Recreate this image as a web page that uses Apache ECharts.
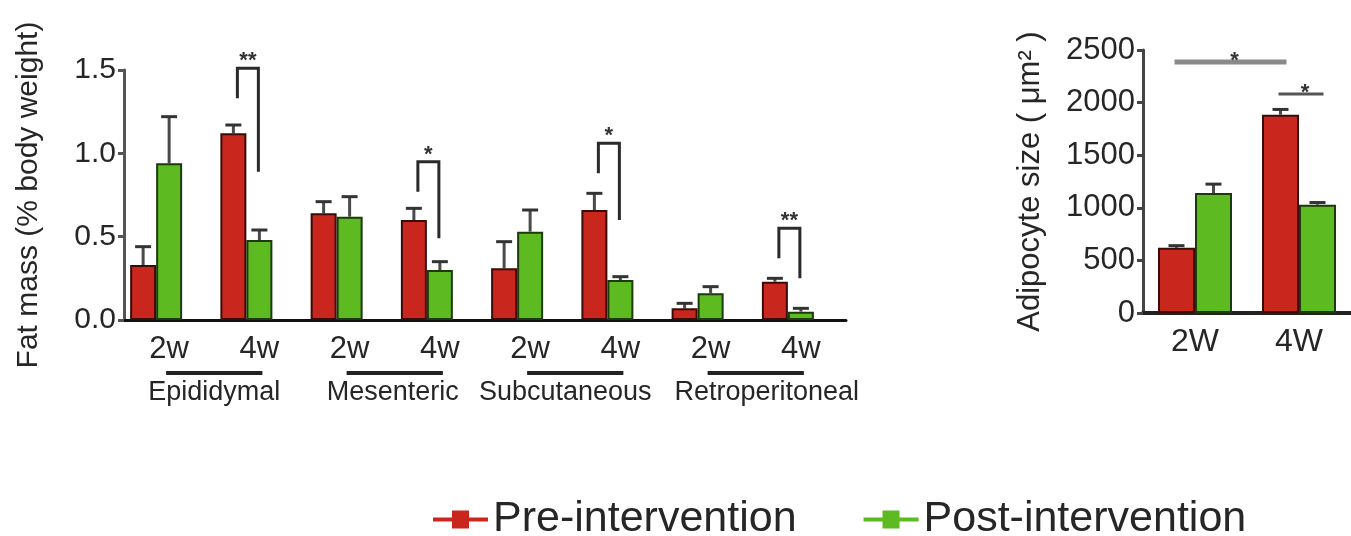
<!DOCTYPE html>
<html>
<head>
<meta charset="utf-8">
<script src="https://cdn.jsdelivr.net/npm/echarts@6/dist/echarts.min.js"></script>
<style>
html,body{margin:0;padding:0;background:#fff;}
#chart{width:1351px;height:536px;}
</style>
</head>
<body>
<div id="chart"></div>
<script>
// ---------- data ----------
const groups = ['Epididymal', 'Mesenteric', 'Subcutaneous', 'Retroperitoneal'];
const times = ['2w', '4w'];
const preMean  = [0.33, 1.12, 0.64, 0.60, 0.31, 0.66, 0.07, 0.23];
const preSem   = [0.11, 0.05, 0.07, 0.07, 0.16, 0.10, 0.03, 0.02];
const postMean = [0.94, 0.48, 0.62, 0.30, 0.53, 0.24, 0.16, 0.05];
const postSem  = [0.28, 0.06, 0.12, 0.05, 0.13, 0.02, 0.04, 0.02];
// brackets: [category index, left leg bottom, top, right leg bottom]
const brackets = [[1, 1.33, 1.51, 0.89], [3, 0.77, 0.95, 0.49], [5, 0.88, 1.06, 0.60], [7, 0.37, 0.55, 0.25]];
const bracketLabels = ['**', '*', '*', '**'];
const fatTicks = [0, 0.5, 1.0, 1.5];

const adCats = ['2W', '4W'];
const adPre = [620, 1885];
const adPreSem = [20, 50];
const adPost = [1140, 1030];
const adPostSem = [85, 20];
// significance lines: [cat from, side from (0 pre / 1 post), cat to, side to, level]
const adSig = [[0, 0, 1, 0, 2386], [1, 0, 1, 1, 2081]];
const adSigLabels = ['*', '*'];

const seriesNames = ['Pre-intervention', 'Post-intervention'];

// ---------- style ----------
const RED = '#c9271d', GREEN = '#5dba20';
const RED_B = '#3a0c08', GREEN_B = '#1d3a0a';
const FONT = "'Liberation Sans', Arial, sans-serif";
const TXT = '#262626';
const BW = 26;   // left bar width
const BW2 = 37;  // right bar width
const groupLabelPad = [[0, 0, 0, 0], [0, 4, 0, 0], [0, 20, 0, 0], [0, 0, 0, 22]];

const cats = [];
groups.forEach(g => times.forEach(t => cats.push(g + '|' + t)));

function errBar(offset, cap) {
  return function (params, api) {
    const c = api.value(0), m = api.value(1), s = api.value(2);
    const x = api.coord([c, m])[0] + offset;
    const yb = api.coord([c, m])[1];
    const yt = api.coord([c, m + s])[1];
    return {
      type: 'group', children: [
        {type: 'line', shape: {x1: x, y1: yb, x2: x, y2: yt}, style: {stroke: '#4a4a4a', lineWidth: 3}},
        {type: 'line', shape: {x1: x - cap / 2, y1: yt, x2: x + cap / 2, y2: yt}, style: {stroke: '#333', lineWidth: 3}}
      ]
    };
  };
}

const option = {
  animation: false,
  textStyle: {fontFamily: FONT},
  legend: {
    data: seriesNames,
    left: 428, top: 493,
    itemWidth: 55, itemHeight: 18, itemGap: 67,
    icon: 'path://M0,7 L55,7 L55,11 L0,11 Z M19,0 L36,0 L36,18 L19,18 Z',
    textStyle: {fontSize: 43, color: TXT, fontFamily: FONT},
    itemStyle: {borderWidth: 0}
  },
  grid: [
    {left: 124, top: 70, width: 722, height: 250},
    {left: 1143, top: 50, width: 222, height: 263}
  ],
  xAxis: [
    {
      type: 'category', gridIndex: 0, data: cats,
      axisLine: {lineStyle: {color: '#111', width: 3}},
      axisTick: {alignWithLabel: true, length: 7, lineStyle: {color: '#555', width: 3}},
      axisLabel: {formatter: v => v.split('|')[1], fontSize: 31, color: TXT, margin: 14, interval: 0}
    },
    {
      type: 'category', gridIndex: 0, position: 'bottom',
      data: groups.map((g, i) => ({value: g, textStyle: {padding: groupLabelPad[i]}})),
      axisLine: {show: false}, axisTick: {show: false},
      axisLabel: {fontSize: 27, color: TXT, margin: 59, interval: 0}
    },
    {
      type: 'category', gridIndex: 1, data: adCats,
      axisLine: {lineStyle: {color: '#222', width: 4}},
      axisTick: {alignWithLabel: true, length: 7, lineStyle: {color: '#555', width: 3}},
      axisLabel: {fontSize: 32, color: TXT, margin: 13}
    }
  ],
  yAxis: [
    {
      type: 'value', gridIndex: 0, min: 0, max: 1.5, interval: 0.5,
      name: 'Fat mass (% body weight)', nameLocation: 'middle', nameGap: 80,
      nameTextStyle: {fontSize: 30, color: TXT},
      axisLine: {show: true, lineStyle: {color: '#555', width: 3}},
      axisTick: {show: true, length: 6, lineStyle: {color: '#555', width: 3}},
      axisLabel: {fontSize: 30, color: TXT, margin: 8, formatter: v => fatTicks.includes(v) ? v.toFixed(1) : ''},
      splitLine: {show: false}
    },
    {
      type: 'value', gridIndex: 1, min: 0, max: 2500, interval: 500,
      name: 'Adipocyte size ( μm² )', nameLocation: 'middle', nameGap: 97,
      nameTextStyle: {fontSize: 31, color: TXT},
      axisLine: {show: true, lineStyle: {color: '#444', width: 3}},
      axisTick: {show: true, length: 6, lineStyle: {color: '#444', width: 3}},
      axisLabel: {fontSize: 31, color: TXT, margin: 8, formatter: v => String(v)},
      splitLine: {show: false}
    }
  ],
  series: [
    {
      name: seriesNames[0], type: 'bar', xAxisIndex: 0, yAxisIndex: 0, data: preMean,
      barWidth: BW, barGap: '0%', itemStyle: {color: RED, borderColor: RED_B, borderWidth: 2}
    },
    {
      name: seriesNames[1], type: 'bar', xAxisIndex: 0, yAxisIndex: 0, data: postMean,
      barWidth: BW, barGap: '0%', itemStyle: {color: GREEN, borderColor: GREEN_B, borderWidth: 2}
    },
    {
      name: '_pad', type: 'bar', xAxisIndex: 0, yAxisIndex: 0, data: preMean.map(() => '-'),
      barWidth: BW, barGap: '0%'
    },
    {
      name: '_errPre', type: 'custom', xAxisIndex: 0, yAxisIndex: 0, z: 1,
      data: preMean.map((m, i) => [i, m, preSem[i]]), renderItem: errBar(-BW, 16)
    },
    {
      name: '_errPost', type: 'custom', xAxisIndex: 0, yAxisIndex: 0, z: 1,
      data: postMean.map((m, i) => [i, m, postSem[i]]), renderItem: errBar(0, 16)
    },
    {
      name: '_brackets', type: 'custom', xAxisIndex: 0, yAxisIndex: 0, z: 3,
      data: brackets,
      renderItem: function (params, api) {
        const c = api.value(0);
        const xc = api.coord([c, 0])[0];
        const xl = xc - 22, xr = xc - 1;
        const yl = api.coord([c, api.value(1)])[1];
        const yt = api.coord([c, api.value(2)])[1];
        const yr = api.coord([c, api.value(3)])[1];
        return {
          type: 'group', children: [
            {type: 'polyline', shape: {points: [[xl, yl], [xl, yt], [xr, yt], [xr, yr]]},
             style: {stroke: '#2a2a2a', lineWidth: 3, fill: null}},
            {type: 'text', x: (xl + xr) / 2, y: yt - 7,
             style: {text: bracketLabels[params.dataIndex], fontSize: 22, fontWeight: 'bold', fill: '#333',
                     align: 'center', verticalAlign: 'middle', fontFamily: FONT}}
          ]
        };
      }
    },
    {
      name: '_underline', type: 'custom', xAxisIndex: 0, yAxisIndex: 0, clip: false,
      data: groups.map((g, i) => [i * 2, 0, i * 2 + 1]),
      renderItem: function (params, api) {
        const p1 = api.coord([api.value(0), 0]);
        const p2 = api.coord([api.value(2), 0]);
        const y = p1[1] + 53;
        return {type: 'line', shape: {x1: p1[0] - 3, y1: y, x2: p2[0] + 3, y2: y}, style: {stroke: '#222', lineWidth: 4}};
      }
    },
    {
      name: seriesNames[0], type: 'bar', xAxisIndex: 2, yAxisIndex: 1, data: adPre,
      barWidth: BW2, barGap: '0%', itemStyle: {color: RED, borderColor: RED_B, borderWidth: 2}
    },
    {
      name: seriesNames[1], type: 'bar', xAxisIndex: 2, yAxisIndex: 1, data: adPost,
      barWidth: BW2, barGap: '0%', itemStyle: {color: GREEN, borderColor: GREEN_B, borderWidth: 2}
    },
    {
      name: '_adErrPre', type: 'custom', xAxisIndex: 2, yAxisIndex: 1, z: 1,
      data: adPre.map((m, i) => [i, m, adPreSem[i]]), renderItem: errBar(-BW2 / 2, 16)
    },
    {
      name: '_adErrPost', type: 'custom', xAxisIndex: 2, yAxisIndex: 1, z: 1,
      data: adPost.map((m, i) => [i, m, adPostSem[i]]), renderItem: errBar(BW2 / 2, 16)
    },
    {
      name: '_adSig', type: 'custom', xAxisIndex: 2, yAxisIndex: 1, z: 3,
      data: adSig.map(d => [d[0], d[4], d[1], d[2], d[3]]),
      renderItem: function (params, api) {
        const lvl = api.value(1);
        const x1 = api.coord([api.value(0), lvl])[0] + (api.value(2) ? BW2 / 2 : -BW2 / 2) - 2;
        const x2 = api.coord([api.value(3), lvl])[0] + (api.value(4) ? BW2 / 2 : -BW2 / 2) + 6;
        const y = api.coord([api.value(0), lvl])[1];
        const first = params.dataIndex === 0;
        return {
          type: 'group', children: [
            {type: 'line', shape: {x1: x1, y1: y, x2: x2, y2: y},
             style: {stroke: first ? '#8a8a8a' : '#555', lineWidth: first ? 5 : 3}},
            {type: 'text', x: (x1 + x2) / 2 + 4, y: y - 1,
             style: {text: adSigLabels[params.dataIndex], fontSize: 22, fontWeight: 'bold', fill: '#333',
                     align: 'center', verticalAlign: 'middle', fontFamily: FONT}}
          ]
        };
      }
    }
  ]
};

const chart = echarts.init(document.getElementById('chart'), null, {renderer: 'canvas'});
chart.setOption(option);
</script>
</body>
</html>
